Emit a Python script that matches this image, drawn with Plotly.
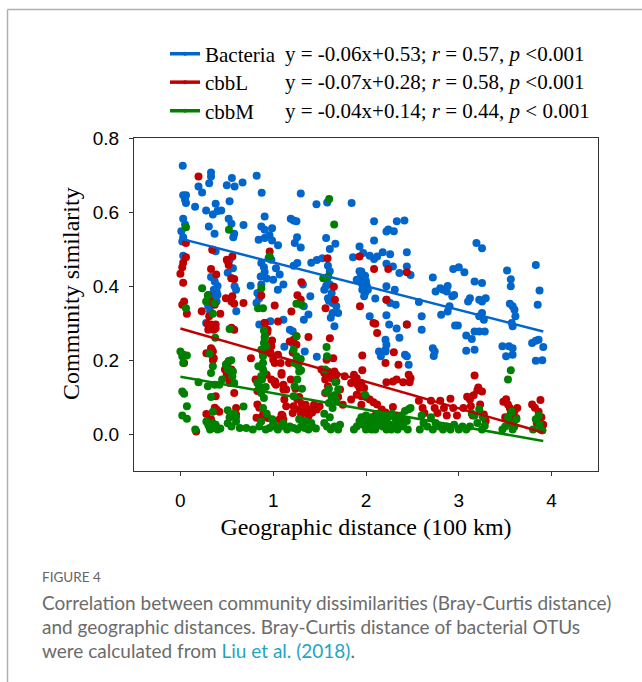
import plotly.graph_objects as go

# ---------------- data ----------------
bacteria_points = [
    (0.025, 0.725), (0.03, 0.645), (0.06, 0.645), (0.05, 0.633), (0.06, 0.624), (0.03, 0.582), (0.05, 0.566),
    (0.01, 0.548), (0.03, 0.532), (0.03, 0.482), (0.02, 0.52),
    (0.158, 0.614), (0.195, 0.669), (0.234, 0.653), (0.277, 0.604), (0.33, 0.707), (0.33, 0.696), (0.31, 0.678),
    (0.35, 0.593), (0.40, 0.603), (0.44, 0.604), (0.38, 0.622), (0.306, 0.561), (0.368, 0.541), (0.35, 0.498),
    (0.38, 0.494), (0.33, 0.424), (0.37, 0.412), (0.39, 0.385), (0.40, 0.376), (0.35, 0.372), (0.39, 0.358),
    (0.30, 0.345), (0.32, 0.332), (0.277, 0.300), (0.36, 0.39), (0.40, 0.40),
    (0.50, 0.672), (0.555, 0.692), (0.584, 0.669), (0.67, 0.68), (0.53, 0.629), (0.52, 0.582), (0.55, 0.568),
    (0.58, 0.541), (0.57, 0.532), (0.68, 0.565), (0.51, 0.467), (0.566, 0.448), (0.51, 0.436), (0.55, 0.421),
    (0.584, 0.399), (0.60, 0.390), (0.602, 0.332), (0.53, 0.47),
    (0.757, 0.401), (0.822, 0.698), (0.876, 0.652), (0.908, 0.588), (0.872, 0.561), (0.908, 0.552), (0.988, 0.556),
    (0.843, 0.525), (0.908, 0.530), (0.96, 0.537), (0.988, 0.523), (1.052, 0.510), (0.872, 0.462), (0.90, 0.451),
    (0.908, 0.438), (0.865, 0.426), (0.83, 0.381), (0.82, 0.354), (0.872, 0.404), (0.85, 0.367), (0.98, 0.471),
    (1.03, 0.448), (1.07, 0.431), (1.0, 0.417), (1.11, 0.404), (1.05, 0.390), (0.97, 0.305), (0.908, 0.300),
    (0.85, 0.296), (0.93, 0.42), (0.95, 0.475),
    (1.297, 0.650), (1.189, 0.582), (1.221, 0.577), (1.25, 0.575), (1.257, 0.532), (1.232, 0.516), (1.297, 0.504),
    (1.22, 0.455), (1.26, 0.462), (1.41, 0.463), (1.32, 0.404), (1.40, 0.372), (1.33, 0.345), (1.33, 0.309),
    (1.38, 0.323), (1.11, 0.309), (1.18, 0.282), (1.21, 0.278), (1.21, 0.245), (1.12, 0.236), (1.34, 0.223),
    (1.47, 0.209), (1.466, 0.621),
    (1.582, 0.626), (1.57, 0.530), (1.67, 0.514), (1.61, 0.500), (1.47, 0.47), (1.53, 0.475), (1.59, 0.455),
    (1.61, 0.44), (1.58, 0.417), (1.61, 0.404), (1.55, 0.390), (1.63, 0.381), (1.59, 0.367), (1.64, 0.354),
    (1.68, 0.345), (1.64, 0.327), (1.70, 0.327), (1.62, 0.314), (1.66, 0.291), (1.60, 0.36), (1.57, 0.40),
    (1.845, 0.624), (1.93, 0.507), (1.86, 0.478), (1.93, 0.440), (1.95, 0.426), (1.97, 0.413), (1.90, 0.417),
    (1.96, 0.390), (1.97, 0.489), (1.95, 0.439), (1.99, 0.428), (1.94, 0.422), (2.0, 0.413), (1.96, 0.404),
    (2.01, 0.399), (2.02, 0.390), (1.99, 0.381), (1.98, 0.372), (1.98, 0.40),
    (2.087, 0.575), (2.332, 0.575), (2.414, 0.577), (2.22, 0.547), (2.24, 0.553), (2.30, 0.548), (2.087, 0.523),
    (2.04, 0.482), (2.087, 0.473), (2.12, 0.480), (2.18, 0.491), (2.26, 0.486), (2.44, 0.491), (2.22, 0.460),
    (2.29, 0.453), (2.36, 0.435), (2.44, 0.453), (2.48, 0.430), (2.10, 0.366), (2.22, 0.399), (2.31, 0.390),
    (2.22, 0.363), (2.26, 0.354), (2.32, 0.349), (2.04, 0.318), (2.22, 0.321), (2.25, 0.296), (2.33, 0.285),
    (2.36, 0.260), (2.44, 0.296), (2.21, 0.255), (2.22, 0.241), (2.21, 0.228), (2.14, 0.223), (2.21, 0.223),
    (2.16, 0.210), (2.42, 0.214), (2.44, 0.210), (2.46, 0.187),
    (2.57, 0.357), (2.60, 0.318), (2.60, 0.282), (2.72, 0.232), (2.74, 0.223), (2.73, 0.211), (2.72, 0.423),
    (2.75, 0.385), (2.80, 0.394), (2.83, 0.390), (2.88, 0.400), (2.87, 0.385), (2.94, 0.446), (3.0, 0.451),
    (3.06, 0.437), (2.81, 0.322), (2.88, 0.331), (2.90, 0.345), (2.93, 0.372), (2.95, 0.376), (2.96, 0.293),
    (2.99, 0.293),
    (3.08, 0.266), (3.14, 0.257), (3.17, 0.277), (3.22, 0.277), (3.28, 0.277), (3.08, 0.225), (3.17, 0.228),
    (3.10, 0.358), (3.12, 0.367), (3.17, 0.412), (3.25, 0.408), (3.22, 0.363), (3.25, 0.358), (3.29, 0.367),
    (3.25, 0.327), (3.27, 0.309), (3.22, 0.318), (3.19, 0.516), (3.25, 0.502),
    (3.52, 0.442), (3.56, 0.418), (3.56, 0.399), (3.55, 0.352), (3.58, 0.345), (3.60, 0.336), (3.61, 0.318),
    (3.58, 0.291), (3.57, 0.300), (3.47, 0.237), (3.51, 0.210), (3.54, 0.237), (3.58, 0.232), (3.58, 0.214),
    (3.83, 0.457), (3.87, 0.388), (3.85, 0.349), (3.79, 0.246), (3.83, 0.252), (3.86, 0.255), (3.91, 0.235),
    (3.83, 0.198), (3.90, 0.199),
]

cbbL_points = [
    (0.06, 0.516), (0.06, 0.478), (0.03, 0.463), (0.02, 0.451), (0.0, 0.433), (0.03, 0.409), (0.04, 0.358),
    (0.07, 0.325), (0.02, 0.349), (0.03, 0.214), (0.04, 0.192),
    (0.195, 0.696), (0.343, 0.498), (0.33, 0.446), (0.386, 0.431), (0.30, 0.376), (0.33, 0.358), (0.37, 0.349),
    (0.23, 0.332), (0.43, 0.325), (0.31, 0.318), (0.29, 0.298), (0.33, 0.296), (0.38, 0.296), (0.36, 0.282),
    (0.33, 0.232), (0.35, 0.223), (0.28, 0.218), (0.35, 0.200), (0.17, 0.007), (0.28, 0.054), (0.33, 0.040),
    (0.30, 0.282), (0.32, 0.289), (0.37, 0.291), (0.38, 0.286), (0.34, 0.228), (0.36, 0.205), (0.38, 0.102),
    (0.37, 0.071), (0.39, 0.066), (0.42, 0.060),
    (0.50, 0.471), (0.56, 0.480), (0.52, 0.457), (0.55, 0.421), (0.58, 0.419), (0.49, 0.367), (0.55, 0.358),
    (0.58, 0.352), (0.56, 0.372), (0.68, 0.354), (0.55, 0.287), (0.58, 0.282), (0.51, 0.192), (0.55, 0.174),
    (0.50, 0.163), (0.53, 0.147), (0.58, 0.111), (0.48, 0.174), (0.50, 0.160), (0.52, 0.151), (0.53, 0.138),
    (0.60, 0.053), (0.60, 0.070),
    (0.76, 0.205), (0.81, 0.147), (0.83, 0.116), (0.83, 0.080), (0.85, 0.071), (0.82, 0.044), (0.87, 0.036),
    (0.872, 0.374), (0.908, 0.300), (0.937, 0.275), (0.988, 0.253), (0.98, 0.237), (0.926, 0.228), (0.890, 0.217),
    (0.973, 0.217), (1.052, 0.214), (1.016, 0.192), (0.98, 0.147), (1.016, 0.138), (0.89, 0.052), (0.944, 0.043),
    (0.962, 0.493), (1.016, 0.347), (1.052, 0.304), (0.91, 0.300), (0.94, 0.282), (0.96, 0.241), (1.0, 0.201),
    (1.02, 0.142), (1.03, 0.133), (0.93, 0.160), (0.97, 0.220),
    (1.09, 0.165), (1.11, 0.120), (1.12, 0.093), (1.14, 0.075), (1.07, 0.040), (1.10, 0.050), (1.17, 0.192),
    (1.19, 0.147), (1.21, 0.220), (1.22, 0.255), (1.178, 0.250), (1.25, 0.241), (1.25, 0.264), (1.304, 0.410),
    (1.261, 0.375), (1.297, 0.363), (1.196, 0.331), (1.38, 0.262), (1.08, 0.192), (1.09, 0.160), (1.11, 0.133),
    (1.14, 0.120), (1.24, 0.122), (1.26, 0.093), (1.22, 0.075), (1.28, 0.066), (1.21, 0.057), (1.30, 0.052),
    (1.35, 0.079), (1.44, 0.079), (1.40, 0.066), (1.38, 0.048), (1.28, 0.100), (1.31, 0.081), (1.33, 0.070),
    (1.36, 0.064), (1.42, 0.058), (1.47, 0.066), (1.50, 0.075), (1.09, 0.052), (1.11, 0.039),
    (1.586, 0.475), (1.654, 0.398), (1.564, 0.340), (1.665, 0.363), (1.611, 0.259), (1.575, 0.201), (1.647, 0.205),
    (1.52, 0.174), (1.59, 0.169), (1.66, 0.169), (1.56, 0.147), (1.63, 0.151), (1.68, 0.142), (1.59, 0.129),
    (1.56, 0.111), (1.63, 0.102), (1.55, 0.165), (1.60, 0.160), (1.64, 0.165), (1.68, 0.160), (1.72, 0.120),
    (1.70, 0.100), (1.75, 0.079),
    (1.77, 0.156), (1.84, 0.138), (1.88, 0.147), (1.93, 0.124), (1.90, 0.106), (1.95, 0.102), (1.91, 0.133),
    (1.84, 0.093), (1.95, 0.079), (1.93, 0.480), (1.935, 0.345), (1.96, 0.212), (1.96, 0.172), (1.87, 0.160),
    (1.90, 0.151), (1.95, 0.138), (1.98, 0.124), (2.0, 0.100),
    (2.087, 0.446), (2.24, 0.446), (2.44, 0.437), (2.22, 0.363), (2.10, 0.298), (2.12, 0.273), (2.44, 0.296),
    (2.30, 0.221), (2.21, 0.192), (2.22, 0.140), (2.33, 0.147), (2.40, 0.140), (2.48, 0.151), (2.04, 0.093),
    (2.08, 0.086), (2.12, 0.080), (2.17, 0.066), (2.21, 0.058), (2.25, 0.050), (2.29, 0.073), (2.33, 0.050),
    (2.38, 0.040), (2.10, 0.050), (2.15, 0.030), (2.08, 0.300), (2.29, 0.142), (2.35, 0.187), (2.47, 0.140),
    (2.46, 0.160),
    (2.57, 0.090), (2.61, 0.070), (2.63, 0.057), (2.70, 0.090), (2.74, 0.070), (2.77, 0.057), (2.80, 0.090),
    (2.84, 0.070), (2.87, 0.050), (2.91, 0.095), (2.94, 0.070), (2.98, 0.050), (3.05, 0.070), (3.09, 0.101),
    (3.12, 0.093), (3.15, 0.050), (3.17, 0.158), (3.21, 0.126), (3.25, 0.115), (3.20, 0.118), (3.23, 0.080),
    (3.27, 0.053), (3.29, 0.035), (3.16, 0.105), (3.13, 0.075),
    (3.48, 0.087), (3.51, 0.094), (3.53, 0.080), (3.55, 0.070), (3.56, 0.057), (3.58, 0.048), (3.60, 0.062),
    (3.62, 0.043), (3.50, 0.045), (3.57, 0.030), (3.63, 0.070),
    (3.79, 0.080), (3.82, 0.071), (3.86, 0.060), (3.88, 0.092), (3.89, 0.045), (3.91, 0.025), (3.84, 0.030),
    (3.90, 0.010),
]

cbbM_points = [
    (0.0, 0.223), (0.02, 0.210), (0.07, 0.212), (0.03, 0.192), (0.06, 0.559), (0.06, 0.340), (0.02, 0.115),
    (0.04, 0.109), (0.07, 0.075), (0.02, 0.050), (0.07, 0.041),
    (0.16, 0.012), (0.195, 0.140), (0.234, 0.394), (0.296, 0.374), (0.277, 0.358), (0.368, 0.354), (0.35, 0.325),
    (0.375, 0.260), (0.314, 0.217), (0.33, 0.165), (0.35, 0.183), (0.37, 0.133), (0.42, 0.133), (0.45, 0.147),
    (0.28, 0.034), (0.31, 0.020), (0.35, 0.029), (0.37, 0.016), (0.40, 0.012), (0.32, 0.012), (0.30, 0.025),
    (0.34, 0.022), (0.38, 0.025), (0.43, 0.015), (0.296, 0.129), (0.33, 0.100), (0.35, 0.060),
    (0.523, 0.552), (0.53, 0.284), (0.49, 0.188), (0.52, 0.197), (0.55, 0.169), (0.56, 0.156), (0.58, 0.138),
    (0.548, 0.199), (0.512, 0.174), (0.566, 0.169), (0.51, 0.029), (0.55, 0.020), (0.60, 0.034), (0.64, 0.016),
    (0.71, 0.016), (0.51, 0.064), (0.60, 0.046), (0.68, 0.074), (0.58, 0.055), (0.53, 0.045),
    (0.962, 0.480), (0.872, 0.394), (0.836, 0.340), (0.89, 0.340), (0.90, 0.280), (0.908, 0.260), (0.872, 0.228),
    (0.926, 0.237), (0.84, 0.183), (0.90, 0.166), (0.87, 0.156), (0.83, 0.138), (0.92, 0.127), (0.87, 0.111),
    (0.90, 0.097), (0.85, 0.129), (0.88, 0.147), (0.89, 0.174), (0.89, 0.192), (0.89, 0.210), (0.90, 0.246),
    (0.91, 0.264), (0.78, 0.012), (0.85, 0.020), (0.87, 0.034), (0.92, 0.012), (0.93, 0.055), (0.89, 0.070),
    (0.96, 0.016), (1.0, 0.029), (1.02, 0.020), (1.05, 0.012), (1.08, 0.020), (1.11, 0.029), (0.99, 0.040),
    (1.25, 0.352), (1.304, 0.349), (1.25, 0.264), (1.297, 0.203), (1.23, 0.192), (1.25, 0.210), (1.22, 0.228),
    (1.28, 0.169), (1.27, 0.185), (1.30, 0.172), (1.26, 0.147), (1.23, 0.129), (1.31, 0.122), (1.22, 0.102),
    (1.15, 0.012), (1.18, 0.020), (1.22, 0.016), (1.26, 0.012), (1.30, 0.020), (1.34, 0.016), (1.38, 0.012),
    (1.42, 0.020), (1.46, 0.015), (1.28, 0.040), (1.35, 0.035), (1.41, 0.030),
    (1.603, 0.635), (1.657, 0.566), (1.593, 0.426), (1.539, 0.421), (1.575, 0.235), (1.58, 0.210), (1.56, 0.174),
    (1.60, 0.122), (1.63, 0.100), (1.57, 0.113), (1.66, 0.105), (1.60, 0.084), (1.64, 0.070), (1.68, 0.090),
    (1.70, 0.120), (1.55, 0.030), (1.58, 0.020), (1.62, 0.012), (1.66, 0.020), (1.70, 0.012), (1.72, 0.025),
    (1.55, 0.055), (1.61, 0.045), (1.67, 0.140),
    (1.87, 0.012), (1.90, 0.020), (1.93, 0.035), (1.95, 0.045), (1.97, 0.025), (1.99, 0.106), (2.0, 0.050),
    (2.02, 0.035), (2.04, 0.020), (2.06, 0.045), (2.08, 0.030), (2.10, 0.012), (2.12, 0.040), (2.14, 0.025),
    (2.16, 0.050), (2.18, 0.020), (2.20, 0.035), (2.22, 0.012), (2.24, 0.045), (2.26, 0.025), (2.28, 0.055),
    (2.30, 0.020), (2.32, 0.040), (2.34, 0.012), (2.36, 0.030), (2.38, 0.050), (2.40, 0.020), (2.42, 0.062),
    (2.44, 0.035), (2.46, 0.067), (2.48, 0.070), (2.45, 0.012), (2.00, 0.012), (2.06, 0.012), (2.13, 0.055),
    (2.19, 0.045), (2.27, 0.012),
    (2.58, 0.012), (2.62, 0.030), (2.66, 0.020), (2.72, 0.012), (2.75, 0.030), (2.79, 0.020), (2.83, 0.012),
    (2.87, 0.020), (2.91, 0.012), (2.95, 0.025), (3.0, 0.012), (3.04, 0.020), (3.08, 0.012), (3.12, 0.020),
    (3.14, 0.055), (3.17, 0.050), (3.20, 0.030), (3.25, 0.012), (3.28, 0.022), (3.22, 0.067), (3.26, 0.045),
    (2.70, 0.045), (2.60, 0.050),
    (3.56, 0.172), (3.53, 0.147), (3.47, 0.012), (3.50, 0.020), (3.53, 0.045), (3.55, 0.030), (3.58, 0.012),
    (3.60, 0.020), (3.62, 0.040), (3.57, 0.060),
    (3.80, 0.012), (3.83, 0.040), (3.86, 0.050), (3.88, 0.012), (3.90, 0.010), (3.87, 0.025),
]

# fitted regression lines: endpoints
fit_x = [0.0, 3.91]
bacteria_fit = [0.528, 0.277]
cbbL_fit = [0.285, 0.004]
cbbM_fit = [0.155, -0.019]

series_names = ["Bacteria", "cbbL", "cbbM"]
equations = [
    "y = -0.06x+0.53; <i>r</i> = 0.57, <i>p</i> &lt;0.001",
    "y = -0.07x+0.28; <i>r</i> = 0.58, <i>p</i> &lt;0.001",
    "y = -0.04x+0.14; <i>r</i> = 0.44, <i>p</i> &lt; 0.001",
]
colors = ["#0066cc", "#c00000", "#008000"]

x_ticks = [0, 1, 2, 3, 4]
y_ticks = [0.0, 0.2, 0.4, 0.6, 0.8]

# ---------------- figure ----------------
SERIF = "Liberation Serif, Times New Roman, serif"
SANS = "Liberation Sans, Arial, sans-serif"

fig = go.Figure()
all_points = [bacteria_points, cbbL_points, cbbM_points]
all_fits = [bacteria_fit, cbbL_fit, cbbM_fit]

for pts, col in zip(all_points, colors):
    fig.add_trace(go.Scatter(
        x=[p[0] for p in pts], y=[p[1] for p in pts], mode="markers",
        marker=dict(size=8, color=col, line=dict(width=0)), showlegend=False))
for fit, col in zip(all_fits, colors):
    fig.add_trace(go.Scatter(x=fit_x, y=fit, mode="lines", line=dict(color=col, width=2.5),
                             showlegend=False))
legend_ids = ["legend", "legend2", "legend3"]
for name, col, lid in zip(series_names, colors, legend_ids):
    fig.add_trace(go.Scatter(x=[None], y=[None], mode="lines+markers", name=name, legend=lid,
                             line=dict(color=col, width=3.5), marker=dict(size=4, color=col)))

W, H = 642, 682
L, R, T, B = 134, 44, 138, 211
pw, ph = W - L - R, H - T - B


def px(xp):
    return (xp - L) / pw


def py(yp):
    return (H - B - yp) / ph


row_y = [54, 82.5, 111]

annotations = []
for eq, yy in zip(equations, row_y):
    annotations.append(dict(x=px(283), y=py(yy), xref="paper", yref="paper", text=eq, showarrow=False,
                            xanchor="left", yanchor="middle", font=dict(family=SERIF, size=21, color="#000")))
annotations.append(dict(x=px(71), y=py(294), xref="paper", yref="paper", text="Community similarity",
                        showarrow=False, textangle=-90, xanchor="center", yanchor="middle",
                        font=dict(family=SERIF, size=24, color="#000")))
annotations.append(dict(x=px(40), y=py(577), xref="paper", yref="paper", text="FIGURE 4", showarrow=False,
                        xanchor="left", yanchor="middle", font=dict(family="Lato, sans-serif", size=13.5, color="#666666")))
caption_lines = [
    "Correlation between community dissimilarities (Bray-Curtis distance)",
    "and geographic distances. Bray-Curtis distance of bacterial OTUs",
    "were calculated from <span style='color:#1ea5c0'>Liu et al. (2018)</span>.",
]
for line, yy in zip(caption_lines, [602, 626, 650]):
    annotations.append(dict(x=px(40), y=py(yy), xref="paper", yref="paper", text=line, showarrow=False,
                            xanchor="left", yanchor="middle",
                            font=dict(family="Lato, sans-serif", size=19, color="#6b6b6b")))

shapes = [
    dict(type="line", xref="paper", yref="paper", x0=px(7.5), x1=px(7.5), y0=py(9.5), y1=py(690),
         line=dict(color="#b0b0b0", width=1.5)),
    dict(type="line", xref="paper", yref="paper", x0=px(7.5), x1=px(650), y0=py(9.5), y1=py(9.5),
         line=dict(color="#b0b0b0", width=1.5)),
]

legend_style = dict(xanchor="left", yanchor="middle", xref="paper", yref="paper",
                    font=dict(family=SERIF, size=21, color="#000"),
                    bgcolor="rgba(0,0,0,0)", itemwidth=30)

fig.update_layout(
    width=W, height=H, margin=dict(l=L, r=R, t=T, b=B),
    paper_bgcolor="white", plot_bgcolor="white",
    xaxis=dict(range=[-0.5, 4.5], tickvals=x_ticks, ticktext=[str(v) for v in x_ticks],
               showline=True, mirror=True, linecolor="#333", linewidth=1.3,
               ticks="outside", ticklen=4, tickcolor="#333", showgrid=False, zeroline=False,
               ticklabelstandoff=8,
               tickfont=dict(family=SANS, size=19, color="#000"),
               title=dict(text="Geographic distance (100 km)", font=dict(family=SERIF, size=24, color="#000"),
                          standoff=8)),
    yaxis=dict(range=[-0.1, 0.8], tickvals=y_ticks, ticktext=["%.1f" % v for v in y_ticks],
               showline=True, mirror=True, linecolor="#333", linewidth=1.3,
               ticks="outside", ticklen=4, tickcolor="#333", showgrid=False, zeroline=False,
               ticklabelstandoff=6,
               tickfont=dict(family=SANS, size=19, color="#000")),
    legend=dict(x=px(165), y=py(row_y[0]), **legend_style),
    legend2=dict(x=px(165), y=py(row_y[1]), **legend_style),
    legend3=dict(x=px(165), y=py(row_y[2]), **legend_style),
    annotations=annotations, shapes=shapes,
)

fig.write_html("out.html")
